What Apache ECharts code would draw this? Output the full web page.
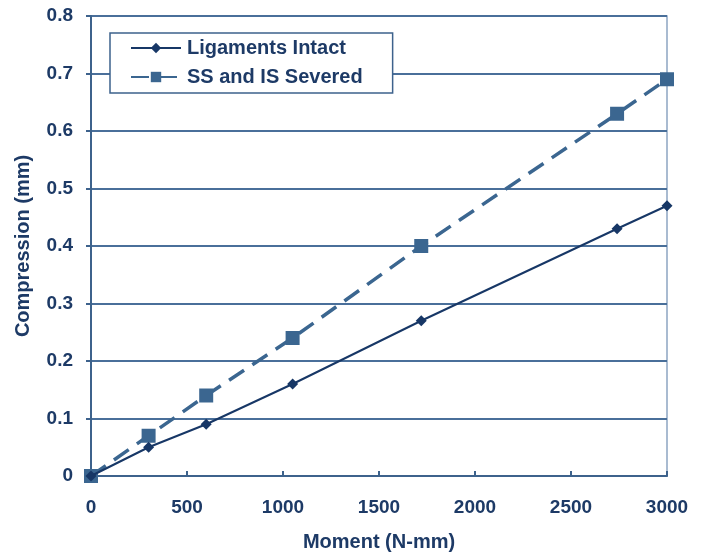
<!DOCTYPE html>
<html><head><meta charset="utf-8">
<script src="https://cdn.jsdelivr.net/npm/echarts@6/dist/echarts.min.js"></script>
<style>html,body{margin:0;padding:0;background:#fff}#c{width:706px;height:557px}</style>
</head><body><div id="c"></div>
<script>
const momentIntact = [0, 300, 600, 1050, 1720, 2740, 3000];
const compIntact = [0, 0.05, 0.09, 0.16, 0.27, 0.43, 0.47];
const momentSevered = [0, 300, 600, 1050, 1720, 2740, 3000];
const compSevered = [0, 0.07, 0.14, 0.24, 0.40, 0.63, 0.69];
const seriesNames = ['Ligaments Intact', 'SS and IS Severed'];
const xTitle = 'Moment (N-mm)';
const yTitle = 'Compression (mm)';

const txt = '#1d3a66';
const font = 'Liberation Sans, Arial, sans-serif';
const chart = echarts.init(document.getElementById('c'));
chart.setOption({
  animation: false,
  grid: {left: 91, top: 16, width: 576, height: 463, show: true, borderColor: '#8da5c2', borderWidth: 1.5},
  legend: {
    left: 110, top: 33, orient: 'vertical', itemGap: 9, itemWidth: 50, itemHeight: 13,
    backgroundColor: '#fff', borderColor: '#3d628c', borderWidth: 1.5, padding: [5, 30, 6, 20],
    textStyle: {color: txt, fontFamily: font, fontWeight: 'bold', fontSize: 20, padding: [0, 0, 0, 1]},
    data: seriesNames
  },
  xAxis: {
    type: 'value', min: 0, max: 3000, interval: 500,
    name: xTitle, nameLocation: 'middle', nameGap: 56,
    nameTextStyle: {color: txt, fontFamily: font, fontWeight: 'bold', fontSize: 20},
    axisLine: {lineStyle: {color: '#3d628c', width: 2}},
    axisTick: {inside: true, length: 5, lineStyle: {color: '#3d628c', width: 2}},
    splitLine: {show: false},
    axisLabel: {color: txt, fontFamily: font, fontWeight: 'bold', fontSize: 19, margin: 22,
      formatter: v => String(v)}
  },
  yAxis: {
    type: 'value', min: 0, max: 0.8, interval: 0.1,
    name: yTitle, nameLocation: 'middle', nameGap: 58,
    nameTextStyle: {color: txt, fontFamily: font, fontWeight: 'bold', fontSize: 20},
    axisLine: {lineStyle: {color: '#3d628c', width: 2}},
    axisTick: {inside: false, length: 5, lineStyle: {color: '#3d628c', width: 2}},
    splitLine: {lineStyle: {color: '#4a6f9a', width: 2}},
    axisLabel: {color: txt, fontFamily: font, fontWeight: 'bold', fontSize: 19, margin: 18,
      formatter: v => String(Math.round(v * 10) / 10)}
  },
  series: [
    {
      name: seriesNames[0], type: 'line',
      data: momentIntact.map((m, i) => [m, compIntact[i]]),
      symbol: 'diamond', symbolSize: 11,
      lineStyle: {color: '#173766', width: 2},
      itemStyle: {color: '#173766'}, z: 3
    },
    {
      name: seriesNames[1], type: 'line',
      data: momentSevered.map((m, i) => [m, compSevered[i]]),
      symbol: 'rect', symbolSize: 14,
      lineStyle: {color: '#3b6690', width: 3.5, type: [18, 10]},
      itemStyle: {color: '#3b6690'}, z: 2
    }
  ]
});
</script></body></html>
